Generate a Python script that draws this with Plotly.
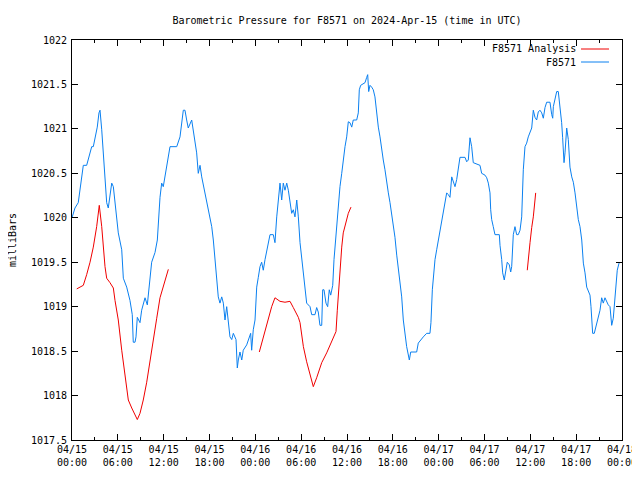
import pandas as pd
import plotly.graph_objects as go

# ---- data (hours after 2024-04-15 00:00 UTC, pressure in mb) ----
station_hours = [0, 0.39, 0.82, 1.27, 1.48, 1.92, 2.36, 2.58, 2.79, 3.01, 3.31, 3.53, 3.67, 3.89, 4.10, 4.32, 4.54, 4.75, 4.97, 5.20,
                 5.41, 5.63, 5.85, 6.06, 6.51, 6.72, 7.16, 7.59, 7.89, 8.02, 8.25, 8.38, 8.55, 8.90, 9.12, 9.56, 9.86, 10.12, 10.43, 10.87,
                 11.17, 11.52, 11.74, 11.95, 12.17, 12.40, 12.83, 13.71, 14.14, 14.57, 14.79, 15.01, 15.22, 15.67, 15.88, 16.32, 16.53, 16.76, 16.98, 17.41,
                 17.84, 18.29, 18.50, 18.85, 19.15, 19.37, 19.60, 19.81, 20.03, 20.25, 20.46, 20.68, 20.91, 21.12, 21.47, 21.64, 21.77, 21.99, 22.22, 22.42,
                 22.87, 23.21, 23.39, 23.52, 23.73, 23.96, 24.18, 24.39, 24.61, 24.83, 25.04, 25.27, 25.49, 25.70, 25.92, 26.35, 26.57, 26.80, 27.01, 27.23,
                 27.45, 27.66, 27.88, 28.11, 28.32, 28.54, 28.76, 28.97, 29.19, 29.42, 29.63, 29.85, 30.07, 30.29, 30.72, 31.16, 31.38, 31.81, 32.03, 32.24,
                 32.46, 32.69, 32.82, 32.99, 33.25, 33.47, 33.68, 33.87, 34.13, 34.30, 34.52, 34.65, 34.86, 35.08, 35.31, 35.51, 35.74, 35.96, 36.17, 36.39,
                 36.62, 36.82, 37.27, 37.48, 37.61, 37.79, 38.36, 38.58, 38.71, 38.84, 39.01, 39.23, 39.44, 39.66, 39.88, 40.10, 40.32, 40.54, 40.75, 40.97,
                 41.19, 41.41, 41.63, 41.85, 42.06, 42.28, 42.51, 42.94, 43.16, 43.37, 43.59, 43.81, 44.16, 44.34, 45.12, 45.33, 45.99, 46.43, 46.86, 46.99,
                 47.17, 47.39, 47.52, 47.74, 47.95, 48.17, 48.40, 48.61, 48.83, 49.05, 49.26, 49.48, 49.71, 49.92, 50.14, 50.36, 50.57, 50.79, 51.45, 51.67,
                 51.88, 52.10, 52.32, 52.53, 53.41, 53.63, 54.06, 54.29, 54.50, 54.72, 54.81, 54.94, 55.15, 55.37, 55.94, 56.03, 56.25, 56.38, 56.59, 56.81,
                 56.98, 57.25, 57.43, 57.56, 57.77, 57.99, 58.21, 58.42, 58.65, 58.87, 59.08, 59.30, 59.52, 59.73, 59.96, 60.18, 60.39, 60.61, 60.83, 61.04,
                 61.26, 61.49, 61.70, 61.92, 62.14, 62.57, 62.80, 62.93, 63.01, 63.23, 63.45, 63.66, 63.88, 64.10, 64.23, 64.41, 64.54, 64.76, 64.97, 65.19,
                 65.42, 65.63, 65.85, 66.07, 66.28, 66.50, 66.73, 66.94, 67.16, 67.38, 67.59, 67.81, 67.94, 68.03, 68.16, 68.37, 68.56, 68.77, 68.99, 69.12,
                 69.34, 69.55, 69.77, 69.99, 70.20, 70.43, 70.56, 70.65, 70.86, 71.08, 71.21, 71.38, 71.61, 71.74]
station_mb = [1020.00, 1020.11, 1020.17, 1020.50, 1020.59, 1020.59, 1020.73, 1020.80, 1020.80, 1020.88, 1021.02, 1021.18, 1021.21, 1020.99, 1020.73, 1020.43, 1020.17, 1020.11, 1020.23, 1020.39,
              1020.35, 1020.17, 1020.01, 1019.83, 1019.64, 1019.32, 1019.22, 1019.07, 1018.91, 1018.60, 1018.60, 1018.66, 1018.88, 1018.82, 1018.96, 1019.10, 1019.02, 1019.22, 1019.50, 1019.61,
              1019.75, 1020.23, 1020.39, 1020.35, 1020.46, 1020.62, 1020.80, 1020.80, 1020.91, 1021.21, 1021.21, 1021.10, 1021.01, 1021.10, 1020.99, 1020.73, 1020.50, 1020.59, 1020.46, 1020.28,
              1020.09, 1019.90, 1019.75, 1019.41, 1019.11, 1019.04, 1019.11, 1019.04, 1018.85, 1019.00, 1018.85, 1018.66, 1018.63, 1018.70, 1018.63, 1018.31, 1018.40, 1018.49, 1018.40, 1018.51,
              1018.57, 1018.66, 1018.70, 1018.51, 1018.74, 1018.85, 1019.22, 1019.33, 1019.45, 1019.50, 1019.41, 1019.53, 1019.64, 1019.75, 1019.81, 1019.81, 1019.72, 1020.01, 1020.20, 1020.39,
              1020.20, 1020.39, 1020.31, 1020.39, 1020.31, 1020.20, 1020.05, 1020.09, 1020.01, 1020.20, 1020.01, 1019.72, 1019.53, 1019.33, 1019.04, 1019.00, 1018.91, 1018.91, 1018.99, 1018.94,
              1018.79, 1018.79, 1019.19, 1019.19, 1019.04, 1019.00, 1019.19, 1019.13, 1019.24, 1019.53, 1019.75, 1019.90, 1020.17, 1020.35, 1020.50, 1020.68, 1020.80, 1020.91, 1021.08, 1021.07,
              1021.02, 1021.10, 1021.10, 1021.18, 1021.44, 1021.49, 1021.52, 1021.58, 1021.61, 1021.42, 1021.49, 1021.47, 1021.44, 1021.36, 1021.18, 1021.02, 1020.91, 1020.76, 1020.65, 1020.54,
              1020.39, 1020.28, 1020.17, 1020.05, 1019.94, 1019.78, 1019.58, 1019.30, 1019.11, 1018.85, 1018.66, 1018.55, 1018.40, 1018.49, 1018.49, 1018.59, 1018.66, 1018.70, 1018.70, 1018.82,
              1019.19, 1019.41, 1019.53, 1019.64, 1019.75, 1019.86, 1019.94, 1020.05, 1020.17, 1020.28, 1020.26, 1020.23, 1020.46, 1020.39, 1020.35, 1020.43, 1020.54, 1020.68, 1020.68, 1020.63,
              1020.65, 1020.90, 1020.80, 1020.62, 1020.59, 1020.50, 1020.48, 1020.45, 1020.39, 1020.28, 1020.09, 1019.98, 1019.90, 1019.81, 1019.81, 1019.69, 1019.53, 1019.38, 1019.30, 1019.45,
              1019.50, 1019.47, 1019.39, 1019.45, 1019.81, 1019.90, 1019.81, 1019.81, 1019.86, 1020.01, 1020.54, 1020.80, 1020.84, 1020.91, 1020.97, 1021.01, 1021.21, 1021.13, 1021.10, 1021.19,
              1021.21, 1021.18, 1021.12, 1021.24, 1021.30, 1021.30, 1021.16, 1021.12, 1021.25, 1021.35, 1021.42, 1021.42, 1021.27, 1021.07, 1020.90, 1020.62, 1020.73, 1021.01, 1020.88, 1020.57,
              1020.46, 1020.40, 1020.28, 1020.12, 1019.98, 1019.90, 1019.75, 1019.49, 1019.38, 1019.22, 1019.17, 1019.13, 1019.00, 1018.82, 1018.70, 1018.70, 1018.77, 1018.85, 1018.91, 1018.96,
              1019.10, 1019.04, 1019.10, 1019.05, 1019.02, 1019.00, 1018.88, 1018.79, 1018.87, 1019.11, 1019.22, 1019.41, 1019.49, 1019.50]

analysis1_hours = [0.62, 1.05, 1.48, 1.92, 2.36, 2.79, 3.23, 3.57, 3.89, 4.32, 4.54, 4.97, 5.41, 5.63, 6.06, 6.51, 6.94, 7.37, 7.82, 8.55,
                   8.90, 9.33, 9.78, 10.21, 10.64, 11.09, 11.52, 11.95, 12.61]
analysis1_mb = [1019.20, 1019.22, 1019.24, 1019.36, 1019.50, 1019.67, 1019.90, 1020.14, 1019.90, 1019.45, 1019.32, 1019.27, 1019.21, 1019.07, 1018.85, 1018.51, 1018.25, 1017.95, 1017.86, 1017.73,
                1017.80, 1017.95, 1018.15, 1018.37, 1018.63, 1018.87, 1019.10, 1019.22, 1019.42]
analysis2_hours = [24.52, 25.04, 25.49, 26.14, 26.57, 27.23, 27.88, 28.54, 28.97, 29.63, 29.85, 30.29, 30.72, 31.16, 31.59, 32.03, 32.69, 33.34, 34.00, 34.56,
                   34.73, 35.08, 35.31, 35.51, 35.74, 35.96, 36.17, 36.52]
analysis2_mb = [1018.49, 1018.66, 1018.82, 1019.00, 1019.10, 1019.06, 1019.05, 1019.06, 1018.99, 1018.88, 1018.82, 1018.55, 1018.38, 1018.23, 1018.10, 1018.20, 1018.37, 1018.48, 1018.60, 1018.72,
                1018.96, 1019.45, 1019.67, 1019.83, 1019.90, 1019.98, 1020.05, 1020.12]
analysis3_hours = [59.60, 59.73, 59.96, 60.18, 60.39, 60.61, 60.70]
analysis3_mb = [1019.41, 1019.56, 1019.72, 1019.89, 1020.01, 1020.20, 1020.28]

tick_hours = [0, 6, 12, 18, 24, 30, 36, 42, 48, 54, 60, 66, 72]
tick_labels = ["04/15<br>00:00", "04/15<br>06:00", "04/15<br>12:00", "04/15<br>18:00",
               "04/16<br>00:00", "04/16<br>06:00", "04/16<br>12:00", "04/16<br>18:00",
               "04/17<br>00:00", "04/17<br>06:00", "04/17<br>12:00", "04/17<br>18:00",
               "04/18<br>00:00"]
minor_hours = [3, 9, 15, 21, 27, 33, 39, 45, 51, 57, 63, 69]
y_ticks = [1017.5, 1018, 1018.5, 1019, 1019.5, 1020, 1020.5, 1021, 1021.5, 1022]
y_labels = ["1017.5", "1018", "1018.5", "1019", "1019.5", "1020", "1020.5", "1021", "1021.5", "1022"]

base = pd.Timestamp("2024-04-15 00:00")
def to_time(hours):
    return [None if h is None else base + pd.Timedelta(hours=h) for h in hours]

an_hours = analysis1_hours + [None] + analysis2_hours + [None] + analysis3_hours
an_mb = analysis1_mb + [None] + analysis2_mb + [None] + analysis3_mb

BLUE = "#0a80f0"
RED = "#f00000"
FONT = "DejaVu Sans Mono"
FS = 10

fig = go.Figure()
fig.add_trace(go.Scatter(x=to_time(station_hours), y=station_mb, mode="lines",
                         line=dict(color=BLUE, width=1), name="F8571", showlegend=False))
fig.add_trace(go.Scatter(x=to_time(an_hours), y=an_mb, mode="lines", connectgaps=False,
                         line=dict(color=RED, width=1), name="F8571 Analysis", showlegend=False))

# legend drawn gnuplot-style (text then sample line)
leg_items = [("F8571 Analysis", RED, 0.9775), ("F8571", BLUE, 0.945)]
for text, col, yy in leg_items:
    fig.add_annotation(x=0.9164, y=yy, xref="paper", yref="paper", text=text, showarrow=False,
                       xanchor="right", yanchor="middle", xshift=2,
                       font=dict(family=FONT, size=FS, color="black"))
    fig.add_shape(type="line", xref="paper", yref="paper", x0=0.9255, x1=0.9764, y0=yy, y1=yy,
                  line=dict(color=col, width=1))

fig.add_annotation(x=-0.109, y=0.5, xref="paper", yref="paper", text="milliBars", textangle=-90,
                   showarrow=False, xanchor="center", yanchor="middle",
                   font=dict(family=FONT, size=FS, color="black"))

# the page body has an 8px margin, so the figure is sized/placed to compensate
fig.update_layout(
    width=632, height=472,
    margin=dict(l=64, r=18, t=32, b=40, autoexpand=False),
    paper_bgcolor="white", plot_bgcolor="white",
    font=dict(family=FONT, size=FS, color="black"),
    title=dict(text="Barometric Pressure for F8571 on 2024-Apr-15 (time in UTC)",
               x=0.5, xref="paper", xanchor="center", y=1 - 12 / 472, yanchor="middle",
               font=dict(family=FONT, size=FS, color="black")),
    showlegend=False,
)
fig.update_xaxes(
    type="date", range=[base, base + pd.Timedelta(hours=72)], automargin=False,
    tickvals=to_time(tick_hours), ticktext=tick_labels, ticklabeloverflow="allow",
    ticks="inside", ticklen=6, tickcolor="black", tickwidth=1,
    minor=dict(tickvals=to_time(minor_hours), ticks="inside", ticklen=3, tickcolor="black", showgrid=False),
    showline=True, linecolor="black", linewidth=1, mirror="allticks",
    showgrid=False, zeroline=False, tickfont=dict(family=FONT, size=FS, color="black"),
)
fig.update_yaxes(
    range=[1017.5, 1022], tickvals=y_ticks, ticktext=y_labels, automargin=False,
    ticks="inside", ticklen=6, tickcolor="black", tickwidth=1, ticklabelstandoff=2,
    showline=True, linecolor="black", linewidth=1, mirror="allticks",
    showgrid=False, zeroline=False, tickfont=dict(family=FONT, size=FS, color="black"),
)

fig.write_html("out.html")
